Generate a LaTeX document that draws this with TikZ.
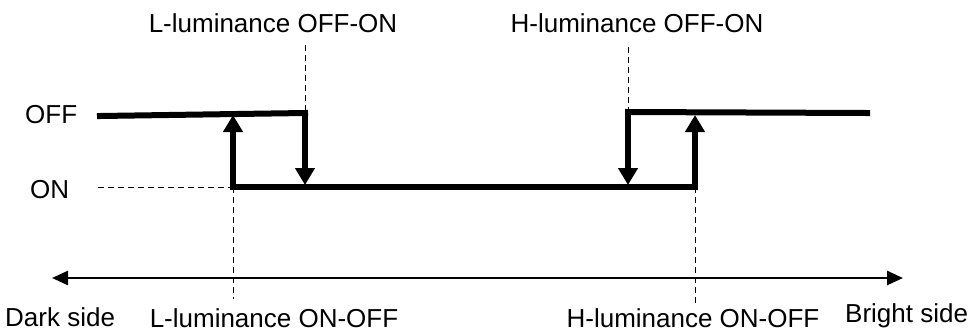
\documentclass[tikz,border=0pt]{standalone}
\usepackage{fontspec}
\setmainfont{Liberation Sans}
\usetikzlibrary{arrows.meta}

\begin{document}
\begin{tikzpicture}[
  x=1pt, y=-1pt,
  lvl/.style={line width=6pt, black},
  sw/.style={line width=6pt, black, -{Triangle[length=17pt, width=19pt]}},
  guide/.style={thin, black, dash pattern=on 6pt off 4pt},
  axis/.style={line width=2.6pt, black, {Triangle[length=16pt, width=14pt]}-{Triangle[length=16pt, width=14pt]}},
  lbl/.style={font=\fontsize{26}{30}\selectfont, inner sep=0pt}
]
\useasboundingbox (0,0) rectangle (973,333);

% corners of the hysteresis loop
\coordinate (offA) at (100,116);
\coordinate (offB) at (305,113);
\coordinate (onA)  at (233,187);
\coordinate (onB)  at (695,187);
\coordinate (offC) at (628,112);
\coordinate (offD) at (867,113);
\coordinate (onAup)  at (233,115);
\coordinate (offBdn) at (305,185);
\coordinate (offCdn) at (628,185);
\coordinate (onBup)  at (695,115);

% labels
\node[lbl, anchor=base] (lofon) at (273,32) {L-luminance OFF-ON};
\node[lbl, anchor=base] (hofon) at (637,32) {H-luminance OFF-ON};
\node[lbl, anchor=base west] (off) at (25,123) {OFF};
\node[lbl, anchor=base west] (on)  at (30,198) {ON};
\node[lbl, anchor=base west] (dark) at (5,326) {Dark side};
\node[lbl, anchor=base] (lonoff) at (274,327) {L-luminance ON-OFF};
\node[lbl, anchor=base] (honoff) at (693,327) {H-luminance ON-OFF};
\node[lbl, anchor=base west] (bright) at (845,322) {Bright side};

% guide lines
\coordinate (gON) at (98,187);
\coordinate (gLt) at (305,45);
\coordinate (gHt) at (628,47);
\coordinate (gLb) at (233,299);
\coordinate (gHb) at (695,303);
\draw[guide] (gON) -- (onA);
\draw[guide] (gLt) -- (offB);
\draw[guide] (gHt) -- (offC);
\draw[guide] (onA) -- (gLb);
\draw[guide] (onB) -- (gHb);

% levels
\draw[lvl, line cap=rect] (offA) -- (offB);
\draw[lvl, line cap=rect] (onA) -- (onB);
\draw[lvl, line cap=rect] (offC) -- (offD);

% switching arrows
\draw[sw] (onA) -- (onAup);
\draw[sw] (offB) -- (offBdn);
\draw[sw] (offC) -- (offCdn);
\draw[sw] (onB) -- (onBup);

% luminance axis
\coordinate (axL) at (52,278);
\coordinate (axR) at (903,278);
\draw[axis] (axL) -- (axR);
\end{tikzpicture}
\end{document}
